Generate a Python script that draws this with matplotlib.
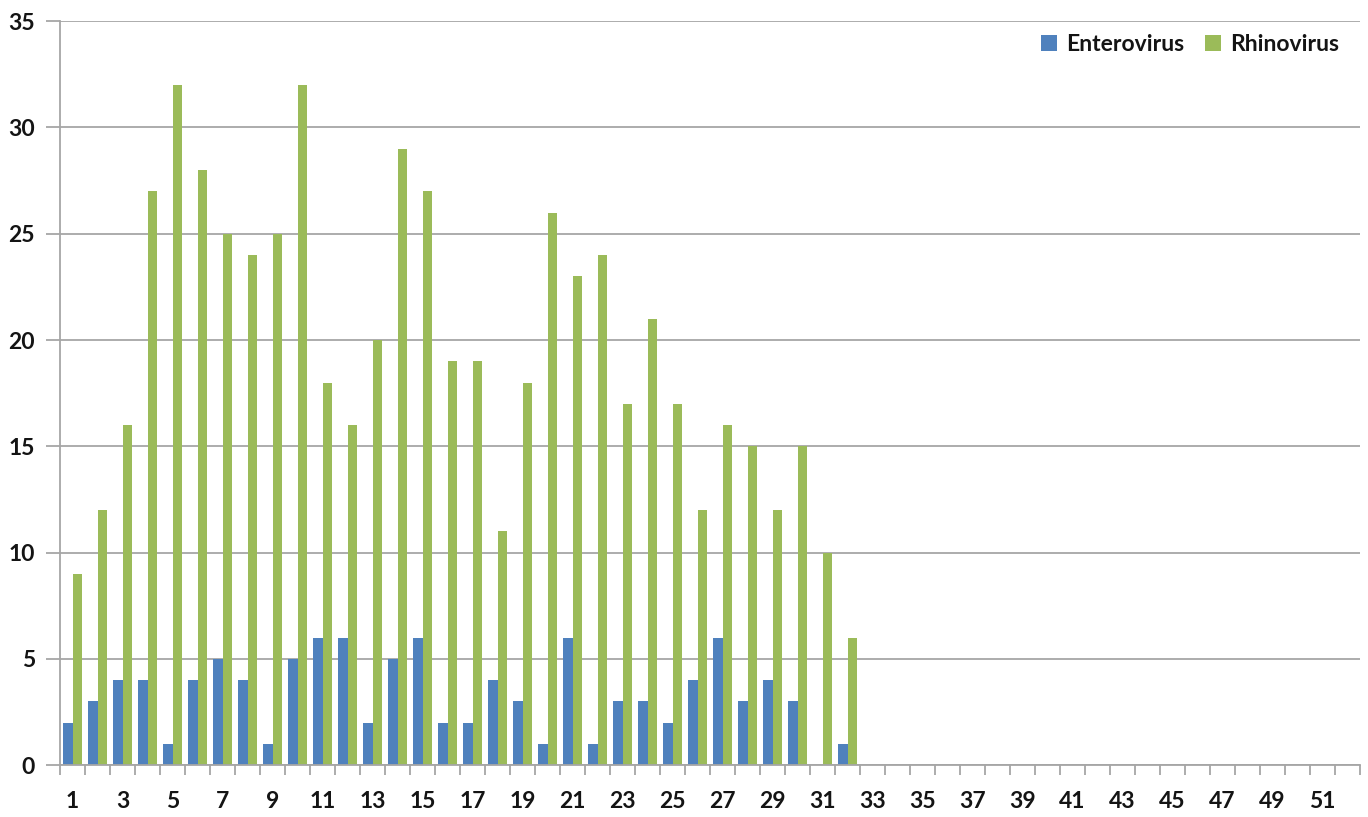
import numpy as np
import matplotlib
matplotlib.use("Agg")
import matplotlib.pyplot as plt
from matplotlib.ticker import FixedLocator

plt.rcParams["font.family"] = ["Lato", "DejaVu Sans"]

weeks = np.arange(1, 53)
entero = [2, 3, 4, 4, 1, 4, 5, 4, 1, 5, 6, 6, 2, 5, 6, 2, 2, 4, 3, 1, 6, 1, 3, 3, 2, 4, 6, 3, 4, 3, 0, 1] + [0] * 20
rhino = [9, 12, 16, 27, 32, 28, 25, 24, 25, 32, 18, 16, 20, 29, 27, 19, 19, 11, 18, 26, 23, 24, 17, 21, 17, 12, 16, 15, 12, 15, 10, 6] + [0] * 20
BLUE, GREEN = "#4F81BD", "#9BBB59"
GRID = "#A6A6A6"

fig = plt.figure(figsize=(13.68, 8.17), dpi=100)
ax = fig.add_axes([0.0439, 0.0636, 0.9503, 0.9104])

w = 0.37
ax.bar(weeks - w / 2, entero, width=w, color=BLUE, label="Enterovirus")
ax.bar(weeks + w / 2, rhino, width=w, color=GREEN, label="Rhinovirus")

ax.set_xlim(0.5, 52.5)
ax.set_ylim(0, 35)
ax.set_yticks(range(0, 36, 5))
ax.grid(axis="y", color=GRID, lw=1.3)
ax.set_axisbelow(True)

# ticks at category boundaries, labels on odd weeks
ax.xaxis.set_major_locator(FixedLocator(np.arange(0.5, 53, 1)))
ax.xaxis.set_minor_locator(FixedLocator(weeks[::2]))
ax.xaxis.set_major_formatter(plt.NullFormatter())
ax.set_xticklabels([str(v) for v in weeks[::2]], minor=True)
ax.tick_params(axis="x", which="major", length=7, width=1.3, color=GRID)
ax.tick_params(axis="x", which="minor", length=0, pad=19)
ax.tick_params(axis="y", length=10, width=1.3, color=GRID, pad=8)
for lab in ax.get_xticklabels(minor=True) + ax.get_yticklabels():
    lab.set_fontsize(16.5)
    lab.set_fontweight("bold")
    lab.set_color("#141414")

for s in ["top", "right"]:
    ax.spines[s].set_visible(False)
for s in ["left", "bottom"]:
    ax.spines[s].set_color(GRID)
    ax.spines[s].set_linewidth(1.3)

leg = ax.legend(loc="upper right", ncol=2, frameon=False, fontsize=16.5,
                handlelength=0.7, handleheight=0.7, handletextpad=0.4,
                columnspacing=0.9, bbox_to_anchor=(1.0, 1.01))
for t in leg.get_texts():
    t.set_fontweight("bold")
    t.set_color("#141414")

fig.savefig("out.png", dpi=100)
